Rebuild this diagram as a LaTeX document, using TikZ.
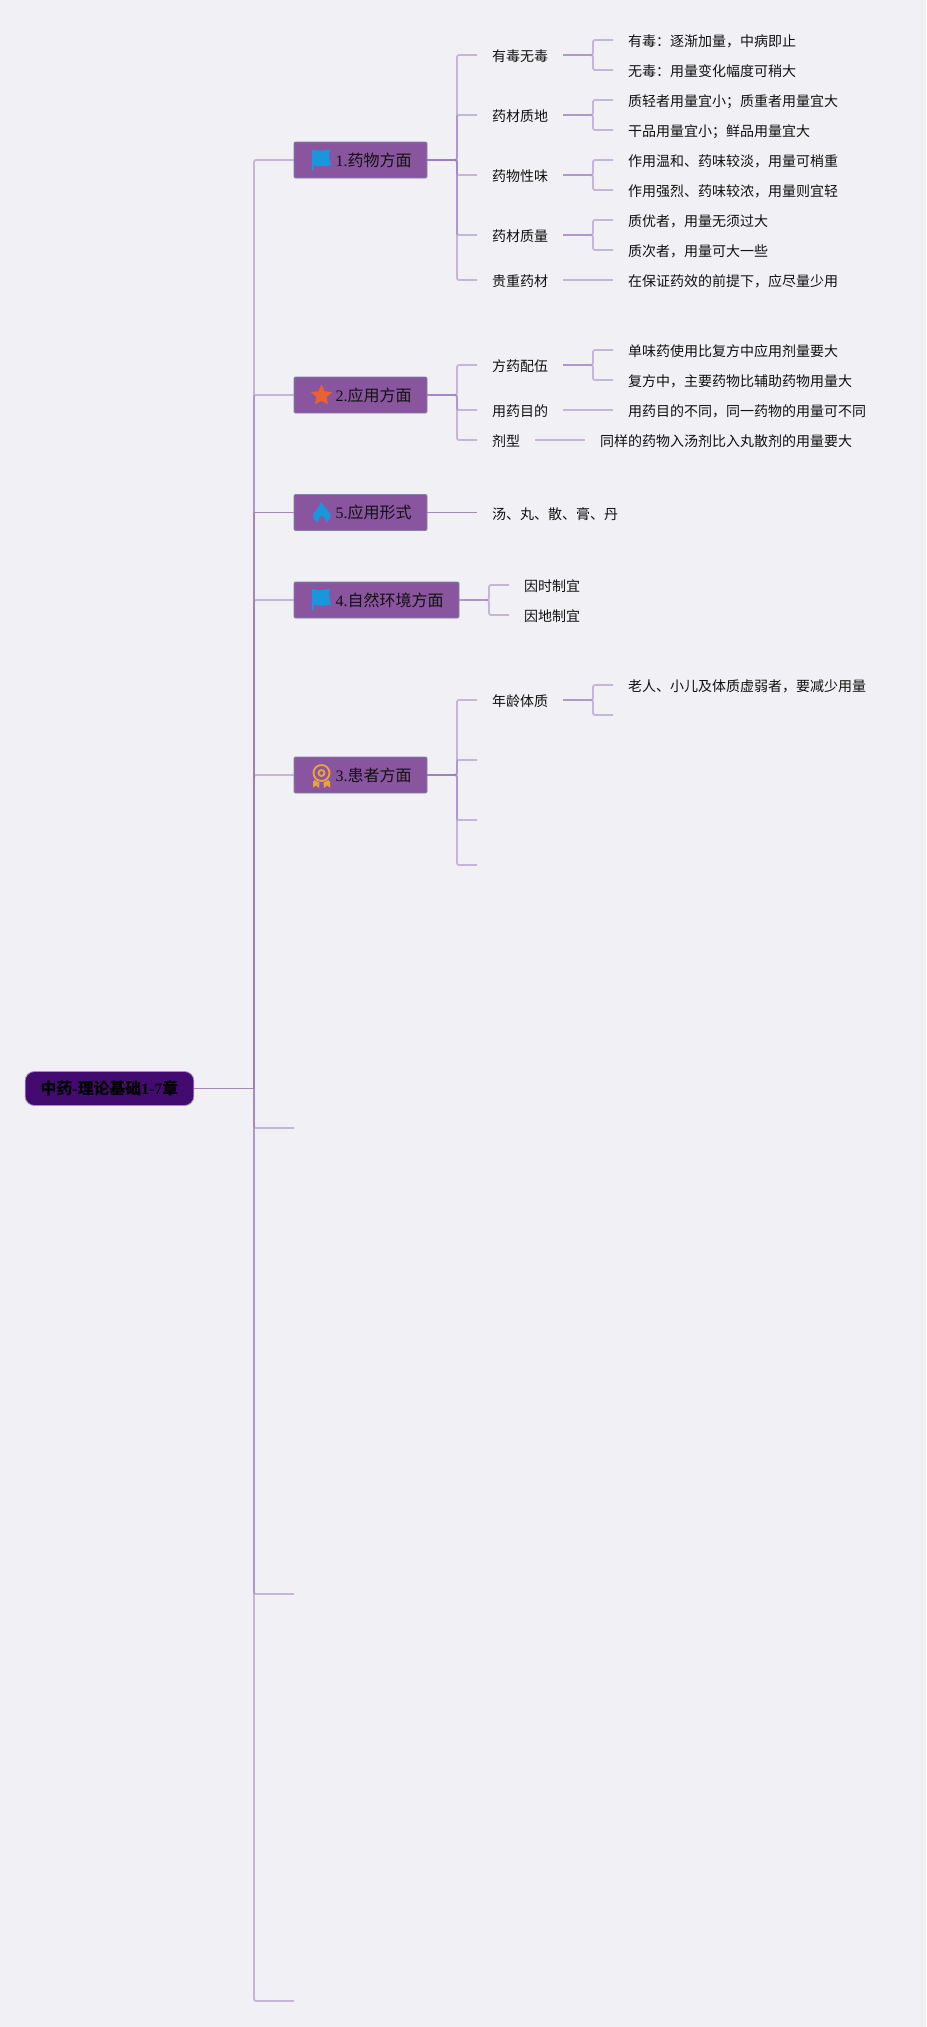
\documentclass[tikz,border=0pt]{standalone}
\usepackage{fontspec}
\usetikzlibrary{shapes.geometric}
\setmainfont{Liberation Serif}
\newfontfamily\cjkf{Noto Sans CJK SC}
\newfontfamily\cjkb{Noto Sans CJK SC Bold}
\definecolor{bgc}{HTML}{F1F0F4}
\definecolor{linec}{HTML}{997CC0}
\definecolor{linesolid}{HTML}{A586C4}
\definecolor{boxc}{HTML}{8A559F}
\definecolor{boxb}{HTML}{7C86A4}
\definecolor{rootc}{HTML}{430A70}
\definecolor{rootb}{HTML}{A98AC4}
\definecolor{iconblue}{HTML}{1A96DC}
\definecolor{iconorange}{HTML}{E8632F}
\definecolor{icongold}{HTML}{E8A33D}
\definecolor{txt}{HTML}{111111}
\tikzset{
  lnk/.style={draw=linec,draw opacity=.5,line width=1.35pt,rounded corners=1.5pt},
  lnkthin/.style={draw=linesolid,line width=.85pt},
  rootbox/.style={draw=rootb,line width=.6pt,fill=rootc,rounded corners=7pt,minimum width=126.5pt,minimum height=25.5pt,inner sep=0pt,outer sep=0pt,text=black,font=\fontsize{11.9}{14}\selectfont\bfseries},
  topic/.style={draw=boxb,line width=.7pt,fill=boxc,rounded corners=1pt,anchor=west,minimum height=27pt,inner xsep=11.5pt,inner ysep=0pt,outer sep=0pt,text=txt,text height=9.6pt,text depth=0pt,font=\fontsize{12}{14}\selectfont},
  leaf/.style={anchor=west,inner xsep=11.25pt,inner ysep=0pt,outer sep=0pt,text=txt,text height=10pt,text depth=0pt,font=\fontsize{10.5}{12}\selectfont\cjkf},
}
\newcommand{\toptext}[2]{\hspace*{19.5pt}#1{\cjkf #2}}
\newcommand{\flagicon}[2]{%
  \fill[iconblue,shift={(#1,#2)}] (0,0) -- (.6,0) .. controls (6,1.5) and (11,1.5) .. (18.5,-.5)
    .. controls (16.5,4) and (16.5,6) .. (19,15.5) .. controls (12,17) and (7,17) .. (1.5,15.5) -- (1.5,21) -- (0,21) -- cycle;}
\begin{document}
\begin{tikzpicture}[x=.75pt,y=-.75pt]
\path[use as bounding box,fill=bgc] (0,0) rectangle (926,2027);

% root and topics
\node[rootbox] (root) at (109.5,1088.5) {{\cjkb 中药}-{\cjkb 理论基础}1-7{\cjkb 章}};
\node[topic,minimum width=99.75pt] (t1) at (294,160) {\toptext{1.}{药物方面}};
\node[topic,minimum width=99.75pt] (t2) at (294,395) {\toptext{2.}{应用方面}};
\node[topic,minimum width=99.75pt] (t5) at (294,512.5) {\toptext{5.}{应用形式}};
\node[topic,minimum width=123.75pt] (t4) at (294,600) {\toptext{4.}{自然环境方面}};
\node[topic,minimum width=99.75pt] (t3) at (294,775) {\toptext{3.}{患者方面}};

% trunk points
\coordinate (tr) at (254,1088.5);
\coordinate (e6) at (294,1128);
\coordinate (e7) at (294,1594);
\coordinate (e8) at (294,2001);
\draw[lnkthin] (root.east) -- (tr);
\draw[lnk] (tr) |- (t1.west);
\draw[lnk] (tr) |- (t2.west);
\draw[lnkthin] (tr) |- (t5.west);
\draw[lnk] (tr) |- (t4.west);
\draw[lnk] (tr) |- (t3.west);
\draw[lnk] (tr) |- (e6);
\draw[lnk] (tr) |- (e7);
\draw[lnk] (tr) |- (e8);

% topic 1
\node[leaf] (a1) at (477,55) {有毒无毒};
\node[leaf] (a2) at (477,115) {药材质地};
\node[leaf] (a3) at (477,175) {药物性味};
\node[leaf] (a4) at (477,235) {药材质量};
\node[leaf] (a5) at (477,280) {贵重药材};
\node[leaf] (a11) at (613,40) {有毒：逐渐加量，中病即止};
\node[leaf] (a12) at (613,70) {无毒：用量变化幅度可稍大};
\node[leaf] (a21) at (613,100) {质轻者用量宜小；质重者用量宜大};
\node[leaf] (a22) at (613,130) {干品用量宜小；鲜品用量宜大};
\node[leaf] (a31) at (613,160) {作用温和、药味较淡，用量可梢重};
\node[leaf] (a32) at (613,190) {作用强烈、药味较浓，用量则宜轻};
\node[leaf] (a41) at (613,220) {质优者，用量无须过大};
\node[leaf] (a42) at (613,250) {质次者，用量可大一些};
\node[leaf] (a51) at (613,280) {在保证药效的前提下，应尽量少用};
\foreach \c in {a1,a2,a3,a4,a5} \draw[lnk] (t1.east) -- ++(30,0) |- (\c.west);
\foreach \p/\c in {a1/a11,a1/a12,a2/a21,a2/a22,a3/a31,a3/a32,a4/a41,a4/a42}
  \draw[lnk] (\p.east) -- ++(30,0) |- (\c.west);
\draw[lnk] (a5.east) -- (a51.west);

% topic 2
\node[leaf] (b1) at (477,365) {方药配伍};
\node[leaf] (b2) at (477,410) {用药目的};
\node[leaf] (b3) at (477,440) {剂型};
\node[leaf] (b11) at (613,350) {单味药使用比复方中应用剂量要大};
\node[leaf] (b12) at (613,380) {复方中，主要药物比辅助药物用量大};
\node[leaf] (b21) at (613,410) {用药目的不同，同一药物的用量可不同};
\node[leaf] (b31) at (585,440) {同样的药物入汤剂比入丸散剂的用量要大};
\foreach \c in {b1,b2,b3} \draw[lnk] (t2.east) -- ++(30,0) |- (\c.west);
\foreach \c in {b11,b12} \draw[lnk] (b1.east) -- ++(30,0) |- (\c.west);
\draw[lnk] (b2.east) -- (b21.west);
\draw[lnk] (b3.east) -- (b31.west);

% topic 5
\node[leaf] (c1) at (477,512.5) {汤、丸、散、膏、丹};
\draw[lnkthin] (t5.east) -- (c1.west);

% topic 4
\node[leaf] (d1) at (509,585) {因时制宜};
\node[leaf] (d2) at (509,615) {因地制宜};
\foreach \c in {d1,d2} \draw[lnk] (t4.east) -- ++(30,0) |- (\c.west);

% topic 3
\node[leaf] (f1) at (477,700) {年龄体质};
\coordinate (f2) at (477,760);
\coordinate (f3) at (477,820);
\coordinate (f4) at (477,865);
\node[leaf] (f11) at (613,685) {老人、小儿及体质虚弱者，要减少用量};
\coordinate (f12) at (613,715);
\foreach \c in {f1,f2,f3,f4} \draw[lnk] (t3.east) -- ++(30,0) |- (\c);
\draw[lnk] (f1.east) -- ++(30,0) |- (f11.west);
\draw[lnk] (f1.east) -- ++(30,0) |- (f12);

% icons
\flagicon{312}{149.5}
\flagicon{312}{589}
\node[star,star points=5,star point ratio=2.1,fill=iconorange,minimum size=16.5pt,inner sep=0pt] (istar) at (321.5,395.5) {};
\fill[iconblue] (321,502) .. controls (323,507) and (331,511) .. (330.5,516)
  .. controls (330.5,519) and (329,521) .. (326.5,522.5)
  .. controls (326.5,519.5) and (324,517) .. (322,515.5)
  .. controls (320,517) and (317.5,519.5) .. (317.5,522.5)
  .. controls (315,521) and (313,519) .. (313,516)
  .. controls (313,511) and (320,508) .. (321,502) -- cycle;
\begin{scope}[icongold]
\draw[line width=1.4pt] (321.5,773) circle (8);
\draw[line width=1.4pt] (321.5,773) circle (3);
\fill (314.5,780) -- (319.5,782.5) -- (319,788) -- (316,785.5) -- (313,787.5) -- (313,782) -- cycle;
\fill (328.5,780) -- (323.5,782.5) -- (324,788) -- (327,785.5) -- (330,787.5) -- (330,782) -- cycle;
\end{scope}
\end{tikzpicture}
\end{document}
